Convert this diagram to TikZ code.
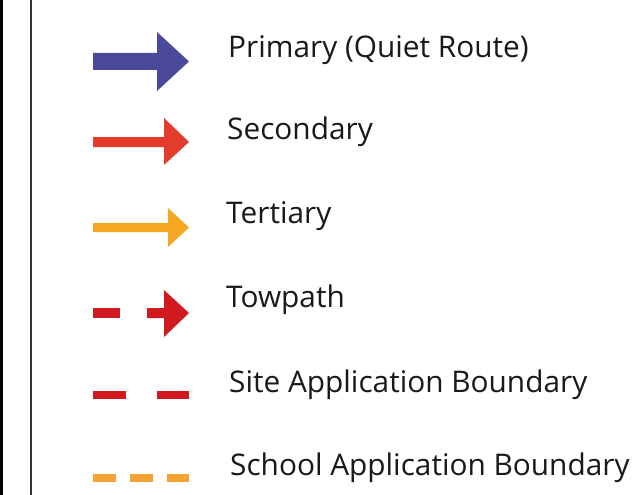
\documentclass[tikz,border=0pt]{standalone}
\usepackage{fontspec}
\setmainfont[Ligatures=NoCommon]{Open Sans}
\definecolor{primaryc}{HTML}{4B4A9A}
\definecolor{secondc}{HTML}{E33B2C}
\definecolor{tertc}{HTML}{F7A623}
\definecolor{towc}{HTML}{D01A20}
\definecolor{sitec}{HTML}{D01A20}
\definecolor{schoolc}{HTML}{F7A234}
\tikzset{lbl/.style={anchor=base west, inner sep=0pt, font=\fontsize{29.8}{34}\selectfont, text=black!90}}
\begin{document}
\begin{tikzpicture}[x=1pt,y=-1pt]
\useasboundingbox (0,0) rectangle (637,495);
\fill[white] (0,0) rectangle (637,495);
% left borders
\fill[black] (0,0) rectangle (3.3,495);
\fill[black!80] (29.8,0) rectangle (31.6,495);
% Primary arrow
\fill[primaryc] (93,53) -- (157,53) -- (157,32) -- (189,61.5) -- (157,91) -- (157,70) -- (93,70) -- cycle;
% Secondary arrow
\fill[secondc] (93,137) -- (164,137) -- (164,118) -- (189,142) -- (164,165) -- (164,147) -- (93,147) -- cycle;
% Tertiary arrow
\fill[tertc] (93,223) -- (168,223) -- (168,208) -- (189,227.5) -- (168,247) -- (168,232) -- (93,232) -- cycle;
% Towpath
\fill[towc] (93,308) rectangle (120,318);
\fill[towc] (147,308) -- (164,308) -- (164,290) -- (189,313) -- (164,337) -- (164,318) -- (147,318) -- cycle;
% Site application boundary
\fill[sitec] (93,391) rectangle (126,399);
\fill[sitec] (157,391) rectangle (189,399);
% School application boundary
\fill[schoolc] (93,474) rectangle (116,482);
\fill[schoolc] (130,474) rectangle (153,482);
\fill[schoolc] (167,474) rectangle (189,482);
% labels
\node[lbl] (t1) at (228,58) {Primary (Quiet Route)};
\node[lbl] (t2) at (227,139) {Secondary};
\node[lbl] (t3) at (226,223) {Tertiary};
\node[lbl] (t4) at (226,307) {Towpath};
\node[lbl] (t5) at (229,392) {Site Application Boundary};
\node[lbl] (t6) at (230,475) {School Application Boundary};
\end{tikzpicture}
\end{document}
